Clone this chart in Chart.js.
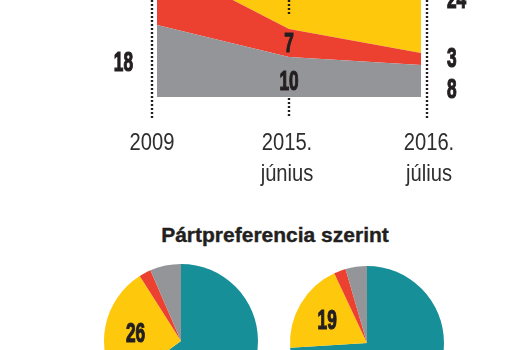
<!DOCTYPE html>
<html>
<head>
<meta charset="utf-8" />
<script src="https://cdn.jsdelivr.net/npm/chart.js@4.4.0/dist/chart.umd.min.js"></script>
<style>
  html, body { margin: 0; padding: 0; background: #fff; overflow: hidden; }
  body { width: 510px; height: 350px; position: relative; }
  canvas { position: absolute; }
  #area { left: 0; top: 0; }
  #pieLeft { left: 101px; top: 261px; }
  #pieRight { left: 287px; top: 263px; }
  #pieTitle {
    position: absolute; left: 0; top: 224px; width: 550px;
    text-align: center; font: bold 21px "Liberation Sans"; line-height: 22px; color: #231f20;
    -webkit-text-stroke: 0.4px #231f20;
  }
</style>
</head>
<body>
<canvas id="area" width="510" height="200"></canvas>
<div id="pieTitle">Pártpreferencia szerint</div>
<canvas id="pieLeft" width="160" height="160"></canvas>
<canvas id="pieRight" width="160" height="160"></canvas>
<script>
// top chart: stacked shares per survey date
const periods = [["2009"], ["2015.", "június"], ["2016.", "július"]];
const grayShare = [18, 10, 8];
const redShare = [16, 7, 3];
const yellowShare = [22, 33, 24];

// bottom pies, clockwise from 12 o'clock
const pieSegments = ["teal", "yellow", "red", "gray"];
const leftPie = [65, 26, 2.5, 6.5];
const rightPie = [74, 19, 2.5, 4.5];

const ink = "#231f20";
const colors = { gray: "#949599", red: "#ec4131", yellow: "#fec80d", teal: "#178f99" };

// condensed text: no narrow face installed, so squeeze Liberation Sans
function drawText(ctx, text, x, baseline, align, font, squeeze, color, stroke) {
  ctx.save();
  ctx.font = font;
  ctx.fillStyle = color;
  ctx.textAlign = align;
  ctx.textBaseline = "alphabetic";
  ctx.translate(x, baseline);
  ctx.scale(squeeze, 1);
  ctx.fillText(text, 0, 0);
  if (stroke) {
    ctx.strokeStyle = color;
    ctx.lineWidth = stroke;
    ctx.strokeText(text, 0, 0);
  }
  ctx.restore();
}

function drawNumber(ctx, text, x, yCenter, align) {
  drawText(ctx, text, x, yCenter + 27 * 0.36, align, 'bold 27px "Liberation Sans"', 0.64, ink, 1.2);
}

// which numbers are visible on the area chart, and how they sit
const areaMarks = [
  { set: 0, i: 0, align: "right", dx: -24, dy: 0 },
  { set: 0, i: 1, align: "center", dx: 0, dy: 3 },
  { set: 1, i: 1, align: "center", dx: 0, dy: -1 },
  { set: 0, i: 2, align: "left", dx: 26, dy: 7 },
  { set: 1, i: 2, align: "left", dx: 26, dy: -2 },
  { set: 2, i: 2, align: "left", dx: 26, dy: -7 }
];

const areaDecor = {
  id: "areaDecor",
  afterDraw(chart) {
    const { ctx } = chart;
    const { x, y } = chart.scales;
    const sets = chart.data.datasets.map(d => d.data);
    const xs = periods.map((p, i) => x.getPixelForValue(i));
    const guideX = [xs[0] - 5, xs[1], xs[2] + 6];
    const bottom = chart.chartArea.bottom;

    // dotted guides
    ctx.save();
    ctx.strokeStyle = ink;
    ctx.lineWidth = 2.4;
    ctx.setLineDash([2, 2]);
    const runs = [
      [[0, bottom + 21]],
      [[0, 14], [bottom + 1, bottom + 21]],
      [[0, bottom + 21]]
    ];
    runs.forEach((list, k) => {
      list.forEach(([a, b]) => {
        ctx.beginPath();
        ctx.moveTo(guideX[k], a);
        ctx.lineTo(guideX[k], b);
        ctx.stroke();
      });
    });
    ctx.restore();

    // values inside / beside the bands
    areaMarks.forEach(m => {
      let base = 0;
      for (let s = 0; s < m.set; s++) base += sets[s][m.i];
      const top = base + sets[m.set][m.i];
      const yc = (y.getPixelForValue(base) + y.getPixelForValue(top)) / 2 + m.dy;
      drawNumber(ctx, String(sets[m.set][m.i]), xs[m.i] + m.dx, yc, m.align);
    });

    // period labels
    const labelX = [guideX[0], guideX[1] - 2, guideX[2] + 2];
    periods.forEach((lines, i) => {
      lines.forEach((t, j) =>
        drawText(ctx, t, labelX[i], bottom + 53 + j * 31, "center", '24px "Liberation Sans"', 0.84, "#2e2e2e"));
    });
  }
};

new Chart(document.getElementById("area"), {
  type: "line",
  data: {
    labels: periods,
    datasets: [
      { data: grayShare, backgroundColor: colors.gray, fill: "origin" },
      { data: redShare, backgroundColor: colors.red, fill: "-1" },
      { data: yellowShare, backgroundColor: colors.yellow, fill: "-1" }
    ]
  },
  options: {
    responsive: false,
    animation: false,
    layout: { padding: { left: 157, right: 89, top: 0, bottom: 103 } },
    elements: { point: { radius: 0 }, line: { borderWidth: 0, tension: 0 } },
    plugins: { legend: { display: false }, tooltip: { enabled: false } },
    scales: {
      x: { display: false },
      y: { display: false, stacked: true, min: 0, max: 24.25 }
    }
  },
  plugins: [areaDecor]
});

const pieLabels = {
  id: "pieLabels",
  afterDatasetsDraw(chart) {
    const values = chart.data.datasets[0].data;
    chart.getDatasetMeta(0).data.forEach((arc, i) => {
      if (values[i] < 10) return;
      const p = arc.getProps(["x", "y", "startAngle", "endAngle", "outerRadius"], true);
      const mid = (p.startAngle + p.endAngle) / 2;
      const r = p.outerRadius * 0.6;
      drawNumber(chart.ctx, String(values[i]), p.x + Math.cos(mid) * r, p.y + Math.sin(mid) * r, "center");
    });
  }
};

function makePie(id, values) {
  return new Chart(document.getElementById(id), {
    type: "pie",
    data: {
      labels: pieSegments,
      datasets: [{
        data: values,
        backgroundColor: pieSegments.map(k => colors[k]),
        borderWidth: 0
      }]
    },
    options: {
      responsive: false,
      animation: false,
      layout: { padding: 3 },
      plugins: { legend: { display: false }, tooltip: { enabled: false } }
    },
    plugins: [pieLabels]
  });
}

makePie("pieLeft", leftPie);
makePie("pieRight", rightPie);
</script>
</body>
</html>
